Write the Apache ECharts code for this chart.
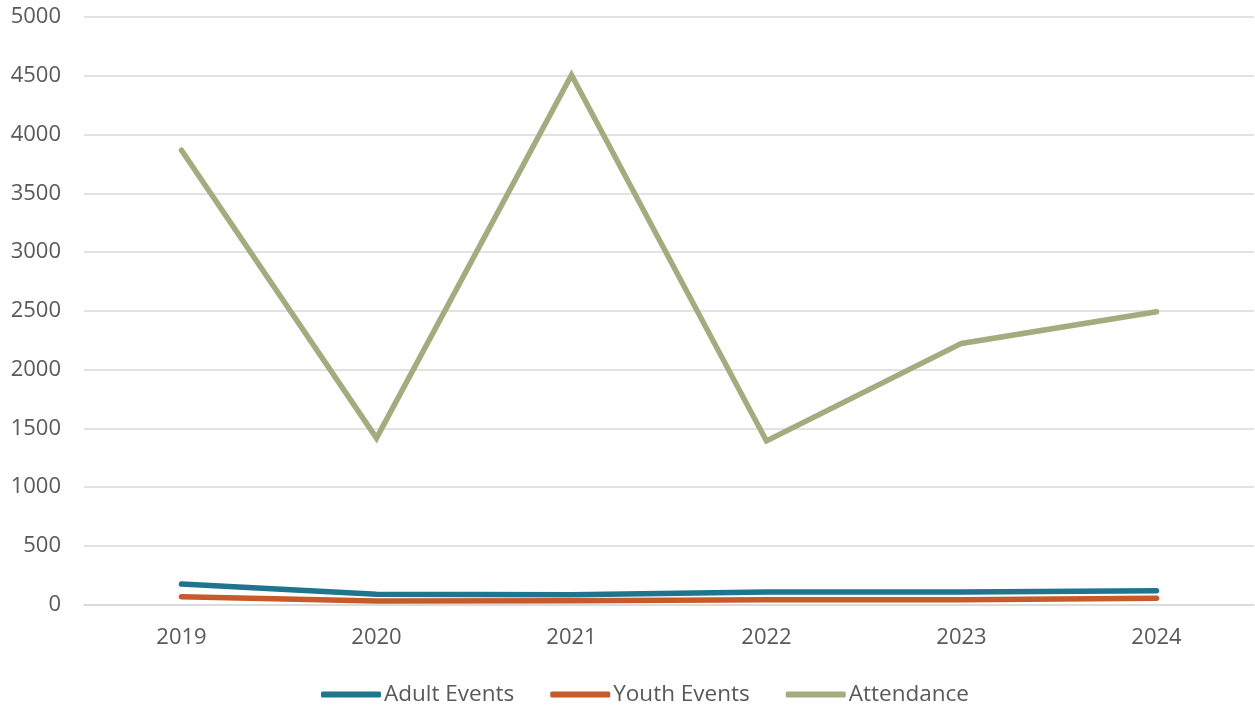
<!DOCTYPE html>
<html>
<head>
<meta charset="utf-8">
<script src="https://cdn.jsdelivr.net/npm/echarts@6/dist/echarts.min.js"></script>
<style>html,body{margin:0;padding:0;background:#fff}#c{width:1255px;height:711px}</style>
</head>
<body>
<div id="c"></div>
<script>
const years = ['2019', '2020', '2021', '2022', '2023', '2024'];
const adultEvents = [174, 87, 83, 106, 106, 117];
const youthEvents = [66, 30, 32, 41, 41, 53];
const attendance = [3866, 1416, 4506, 1392, 2222, 2491];

const FONT = 'Open Sans';
const TXT = '#595959';
const chart = echarts.init(document.getElementById('c'));
function mk(name, data, color) {
  return {
    name: name, type: 'line', data: data, symbol: 'none', smooth: false,
    lineStyle: { color: color, width: 5.5, cap: 'round', join: 'miter' },
    itemStyle: { color: color },
    emphasis: { disabled: true }
  };
}
chart.setOption({
  animation: false,
  grid: { left: 84, right: 1, top: 17, bottom: 106.5, containLabel: false },
  xAxis: {
    type: 'category', data: years, boundaryGap: true,
    axisLine: { show: true, lineStyle: { color: '#D9D9D9', width: 1.5 } },
    axisTick: { show: false },
    axisLabel: { color: TXT, fontFamily: FONT, fontSize: 22, margin: 22 }
  },
  yAxis: {
    type: 'value', min: 0, max: 5000, interval: 500,
    axisLine: { show: false }, axisTick: { show: false },
    splitLine: { lineStyle: { color: '#D9D9D9', width: 1.5 } },
    axisLabel: { color: TXT, fontFamily: FONT, fontSize: 22, margin: 23, formatter: function (v) { return String(v); } }
  },
  legend: {
    bottom: 0, left: 316, itemWidth: 60, itemHeight: 6, itemGap: 36,
    icon: 'roundRect',
    textStyle: { color: TXT, fontFamily: FONT, fontSize: 22.5, padding: [0, 0, 0, -2] },
    data: ['Adult Events', 'Youth Events', 'Attendance']
  },
  series: [
    mk('Youth Events', youthEvents, '#C65A2B'),
    mk('Adult Events', adultEvents, '#1F748E'),
    mk('Attendance', attendance, '#A3AC7E')
  ]
});
</script>
</body>
</html>
